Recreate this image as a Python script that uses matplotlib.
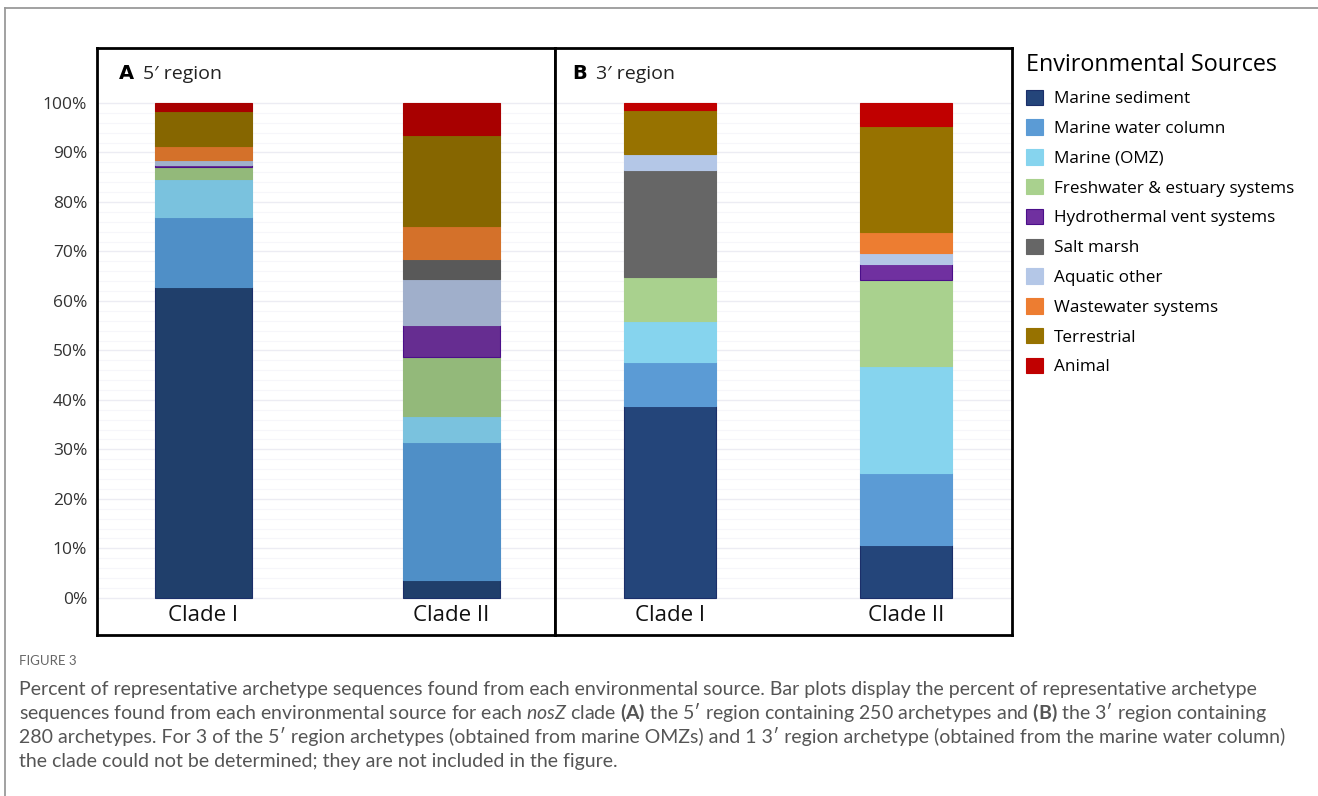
import matplotlib.pyplot as plt
from matplotlib.patches import Patch
from matplotlib.lines import Line2D

plt.rcParams['font.family'] = ['Lato', 'DejaVu Sans']
plt.rcParams['mathtext.fontset'] = 'custom'
plt.rcParams['mathtext.rm'] = 'Lato'
plt.rcParams['mathtext.it'] = 'Lato:italic'
plt.rcParams['mathtext.bf'] = 'Lato:bold'

# data (percent of archetypes)
sources = ['Marine sediment', 'Marine water column', 'Marine (OMZ)',
           'Freshwater & estuary systems', 'Hydrothermal vent systems',
           'Salt marsh', 'Aquatic other', 'Wastewater systems',
           'Terrestrial', 'Animal']
clades = ['Clade I', 'Clade II']

# stacking order in the bars (bottom to top)
stack_5 = ['Marine sediment', 'Marine water column', 'Marine (OMZ)',
           'Freshwater & estuary systems', 'Hydrothermal vent systems',
           'Aquatic other', 'Salt marsh', 'Wastewater systems',
           'Terrestrial', 'Animal']
stack_3 = ['Marine sediment', 'Marine water column', 'Marine (OMZ)',
           'Freshwater & estuary systems', 'Salt marsh',
           'Hydrothermal vent systems', 'Aquatic other',
           'Wastewater systems', 'Terrestrial', 'Animal']

# 5' region
region5_clade1 = {'Marine sediment': 62.8, 'Marine water column': 14.1,
                  'Marine (OMZ)': 7.8, 'Freshwater & estuary systems': 2.4,
                  'Hydrothermal vent systems': 0.4, 'Aquatic other': 0.9,
                  'Salt marsh': 0.0, 'Wastewater systems': 2.9,
                  'Terrestrial': 7.1, 'Animal': 1.6}
region5_clade2 = {'Marine sediment': 3.6, 'Marine water column': 27.9,
                  'Marine (OMZ)': 5.3, 'Freshwater & estuary systems': 11.9,
                  'Hydrothermal vent systems': 6.5, 'Aquatic other': 9.3,
                  'Salt marsh': 3.9, 'Wastewater systems': 6.7,
                  'Terrestrial': 18.4, 'Animal': 6.5}
# 3' region
region3_clade1 = {'Marine sediment': 38.7, 'Marine water column': 9.0,
                  'Marine (OMZ)': 8.3, 'Freshwater & estuary systems': 8.9,
                  'Salt marsh': 21.6, 'Hydrothermal vent systems': 0.0,
                  'Aquatic other': 3.1, 'Wastewater systems': 0.0,
                  'Terrestrial': 8.9, 'Animal': 1.5}
region3_clade2 = {'Marine sediment': 10.7, 'Marine water column': 14.6,
                  'Marine (OMZ)': 21.5, 'Freshwater & estuary systems': 17.4,
                  'Salt marsh': 0.0, 'Hydrothermal vent systems': 3.3,
                  'Aquatic other': 2.2, 'Wastewater systems': 4.2,
                  'Terrestrial': 21.4, 'Animal': 4.7}

yticks = list(range(0, 101, 10))
ytick_labels = [f'{v}%' for v in yticks]

# colours (the two panels use slightly different shades)
colors_5 = {'Marine sediment': '#203F6B', 'Marine water column': '#4F8FC7',
            'Marine (OMZ)': '#7AC2DE', 'Freshwater & estuary systems': '#93B97A',
            'Hydrothermal vent systems': '#662D91', 'Salt marsh': '#595959',
            'Aquatic other': '#A0AFCB', 'Wastewater systems': '#D4712A',
            'Terrestrial': '#866600', 'Animal': '#A80000'}
colors_3 = {'Marine sediment': '#24457A', 'Marine water column': '#5B9BD5',
            'Marine (OMZ)': '#86D4EE', 'Freshwater & estuary systems': '#A9D18E',
            'Hydrothermal vent systems': '#7030A0', 'Salt marsh': '#666666',
            'Aquatic other': '#B4C7E7', 'Wastewater systems': '#ED7D31',
            'Terrestrial': '#977200', 'Animal': '#C00000'}
edges = {'Hydrothermal vent systems': '#4B0F8A', 'Marine sediment': '#1B2F6A'}

W, H = 1318, 796
fig = plt.figure(figsize=(W / 100, H / 100), dpi=100)

# outer frame of the figure page
fig.add_artist(Line2D([5 / W, 5 / W], [0, 1 - 8 / H], color='#9a9a9a', lw=1.3))
fig.add_artist(Line2D([5 / W, 1], [1 - 8 / H, 1 - 8 / H], color='#9a9a9a', lw=1.3))


def panel(rect, data, stack, colors, xlim, letter, title, show_y, lx, tx):
    ax = fig.add_axes(rect)
    ylo, yhi = -7.5, 111.1
    ax.set_ylim(ylo, yhi)
    ax.set_xlim(*xlim)
    for v in yticks:
        ax.axhline(v, color='#ececf3', lw=1.0, zorder=0)
    for v in range(0, 100, 2):
        if v % 10:
            ax.axhline(v, color='#f6f6fa', lw=0.8, zorder=0)
    for i, d in enumerate(data):
        bottom = 0
        for s in stack:
            val = d[s]
            if val > 0:
                ax.bar(i, val, bottom=bottom, width=0.39, color=colors[s],
                       edgecolor=edges.get(s, colors[s]), lw=0.8, zorder=2)
            bottom += val
        ax.text(i, -3.6, clades[i], ha='center', va='center', fontsize=16,
                color='#111111', family=['Open Sans', 'DejaVu Sans'])
    ax.set_xticks([])
    ax.set_yticks(yticks)
    if show_y:
        ax.set_yticklabels(ytick_labels, fontsize=12.5,
                           family=['Open Sans', 'DejaVu Sans'], color='#333333')
    else:
        ax.set_yticklabels([])
    ax.tick_params(axis='y', length=0, pad=7)
    for sp in ax.spines.values():
        sp.set_linewidth(2.0)
        sp.set_color('black')
    ax.text(lx, 0.956, letter, transform=ax.transAxes, fontsize=14,
            fontweight='bold', family=['DejaVu Sans'], va='center')
    ax.text(tx, 0.956, title, transform=ax.transAxes, fontsize=14,
            family=['Open Sans', 'DejaVu Sans'], va='center', color='#222222')
    return ax


top_px, bot_px = 48, 635
panel([97 / W, 1 - bot_px / H, (555 - 97) / W, (bot_px - top_px) / H],
      [region5_clade1, region5_clade2], stack_5, colors_5, (-0.429, 1.417),
      'A', '5\u2032 region', True, 0.048, 0.101)
panel([555 / W, 1 - bot_px / H, (1012 - 555) / W, (bot_px - top_px) / H],
      [region3_clade1, region3_clade2], stack_3, colors_3, (-0.49, 1.45),
      'B', '3\u2032 region', False, 0.037, 0.09)

# legend
handles = [Patch(facecolor=colors_3[s], edgecolor=edges.get(s, colors_3[s]),
                 lw=0.8, label=s) for s in sources]
leg = fig.legend(handles=handles, loc='upper left',
                 bbox_to_anchor=(1011 / W, 1 - 38 / H), frameon=False,
                 title='Environmental Sources',
                 handlelength=1.0, handleheight=1.0,
                 handletextpad=0.6, labelspacing=0.72,
                 prop={'family': ['Open Sans', 'DejaVu Sans'], 'size': 12.3})
leg.get_title().set_family(['Open Sans', 'DejaVu Sans'])
leg.get_title().set_fontsize(16.8)
leg._legend_box.align = 'left'

# caption
cap_color = '#555555'
fig.text(19 / W, 1 - 661 / H, 'FIGURE 3', fontsize=9.5, color='#666666',
         va='center', family=['Lato', 'DejaVu Sans'])
lines = [
    'Percent of representative archetype sequences found from each environmental source. '
    'Bar plots display the percent of representative archetype',
    'sequences found from each environmental source for each $\\it{nosZ}$ clade '
    '$\\bf{(A)}$ the 5\u2032 region containing 250 archetypes and $\\bf{(B)}$ the 3\u2032 region containing',
    '280 archetypes. For 3 of the 5\u2032 region archetypes (obtained from marine OMZs) '
    'and 1 3\u2032 region archetype (obtained from the marine water column)',
    'the clade could not be determined; they are not included in the figure.',
]
for k, line in enumerate(lines):
    fig.text(19 / W, 1 - (689 + 24 * k) / H, line, fontsize=14.0,
             color=cap_color, va='center')

fig.savefig('out.png', dpi=100)
